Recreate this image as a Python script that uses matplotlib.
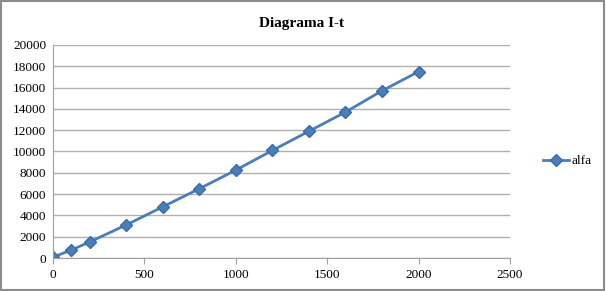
import matplotlib.pyplot as plt
from matplotlib.patches import Rectangle

plt.rcParams['font.family'] = ['Liberation Serif', 'DejaVu Serif']

t = [0, 100, 200, 400, 600, 800, 1000, 1200, 1400, 1600, 1800, 2000]
alfa = [80, 750, 1500, 3100, 4800, 6500, 8250, 10100, 11900, 13700, 15700, 17500]

fig = plt.figure(figsize=(6.06, 2.91), dpi=100)
ax = fig.add_axes([0.0875, 0.1134, 0.754, 0.732])

ax.plot(t, alfa, color='#4a7ebb', lw=2, marker='D', ms=6,
        markerfacecolor='#4a7ebb', markeredgecolor='#3a6aa8', label='alfa')

ax.set_xlim(0, 2500)
ax.set_ylim(0, 20000)
ax.set_xticks(range(0, 2501, 500))
ax.set_yticks(range(0, 20001, 2000))
ax.grid(axis='y', color='#b0b0b0', lw=1)
ax.set_axisbelow(True)
for s in ['top', 'right']:
    ax.spines[s].set_visible(False)
ax.spines['left'].set_color('#a0a0a0')
ax.spines['bottom'].set_color('#a0a0a0')
ax.tick_params(axis='x', direction='out', length=4, color='#a0a0a0', labelsize=9.5, pad=4)
ax.tick_params(axis='y', length=0, labelsize=9.5, pad=5)
# title sits in the middle of the whole chart, not over the plot area
ax.set_title('Diagrama I-t', fontsize=11, fontweight='bold', pad=13, x=0.545)

ax.legend(loc='center left', bbox_to_anchor=(1.072, 0.455), frameon=False,
          fontsize=9.5, handlelength=2.0, handletextpad=0.2,
          borderaxespad=0, borderpad=0)

fig.patches.append(Rectangle((0.002, 0.003), 0.995, 0.993, transform=fig.transFigure,
                             fill=False, ec='#8c8c8c', lw=1.5))

fig.savefig('out.png', dpi=100)
